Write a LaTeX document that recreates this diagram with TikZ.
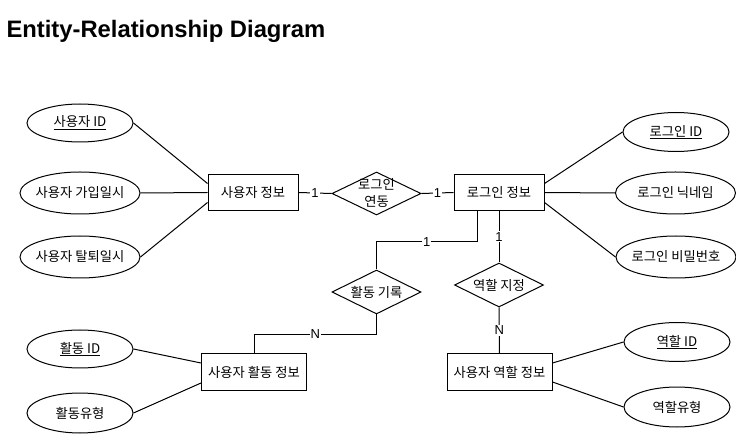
\documentclass[tikz,border=0pt]{standalone}
\usepackage{fontspec}
\setmainfont{Liberation Sans}
\newfontfamily\kr{Noto Sans CJK KR}
\usetikzlibrary{shapes.geometric,positioning}

\tikzset{
  entidad/.style={draw, rectangle, minimum height=36pt, inner sep=1pt,
    font=\kr\fontsize{13.3}{15}\selectfont},
  atributo/.style={draw, ellipse, minimum width=120pt, minimum height=42pt,
    inner xsep=-8pt, inner ysep=0pt, font=\kr\fontsize{13.3}{15}\selectfont},
  relacion/.style={draw, diamond, aspect=2, minimum width=89pt, minimum height=44pt,
    inner sep=0pt, font=\kr\fontsize{13.3}{15}\selectfont},
  card/.style={fill=white, inner sep=1pt, font=\fontsize{13}{15}\selectfont}
}

\begin{document}
\begin{tikzpicture}[x=1pt,y=-1pt,line width=1pt]
  \useasboundingbox (0,0) rectangle (736,435);

  % Titulo
  \node[anchor=base west, inner sep=0pt, font=\bfseries\fontsize{23.8}{28}\selectfont]
    (titulo) at (6,37.5) {Entity-Relationship Diagram};

  % Entidades
  \node[entidad, minimum width=90pt] (usuario) at (253,192.5) {사용자 정보};
  \node[entidad, minimum width=90pt] (login) at (499,192.5) {로그인 정보};
  \node[entidad, minimum width=105pt] (actividad) at (254,372) {사용자 활동 정보};
  \node[entidad, minimum width=105pt] (rolinfo) at (499.5,372) {사용자 역할 정보};

  % Atributos de usuario
  \node[atributo, minimum width=106pt, minimum height=38pt] (uid) at (80,123) {\underline{사용자 ID}};
  \node[atributo] (ualta) at (80,193) {사용자 가입일시};
  \node[atributo] (ubaja) at (80,257) {사용자 탈퇴일시};

  % Atributos de login
  \node[atributo, minimum width=106pt, minimum height=39pt] (lid) at (676,132) {\underline{로그인 ID}};
  \node[atributo] (lnick) at (675.5,193) {로그인 닉네임};
  \node[atributo] (lpass) at (676,257) {로그인 비밀번호};

  % Atributos de actividad y rol
  \node[atributo, minimum width=106pt, minimum height=38pt] (aid) at (80,349) {\underline{활동 ID}};
  \node[atributo, minimum width=106pt, minimum height=40pt] (atipo) at (80,413) {활동유형};
  \node[atributo, minimum width=106pt, minimum height=39pt] (rid) at (677,342) {\underline{역할 ID}};
  \node[atributo, minimum width=106pt, minimum height=40pt] (rtipo) at (677,407) {역할유형};

  % Relaciones
  \node[relacion, minimum height=43pt] (enlace) at (376.5,193.5) {};
  \node[align=center, inner sep=0pt, font=\kr\fontsize{13.3}{17}\selectfont]
    (enlacetxt) at (enlace) {로그인\\연동};
  \node[relacion] (registro) at (376.5,292) {활동 기록};
  \node[relacion] (asigna) at (499,285) {역할 지정};

  % Lineas de atributos
  \draw (uid.east) -- ([yshift=9pt]usuario.west);
  \draw (ualta.east) -- (usuario.west);
  \draw (ubaja.east) -- ([yshift=-10pt]usuario.west);
  \draw ([yshift=9pt]login.east) -- (lid.west);
  \draw (login.east) -- (lnick.west);
  \draw ([yshift=-10pt]login.east) -- (lpass.west);
  \draw (aid.east) -- ([yshift=9pt]actividad.west);
  \draw (atipo.east) -- ([yshift=-11pt]actividad.west);
  \draw ([yshift=9pt]rolinfo.east) -- (rid.west);
  \draw ([yshift=-10pt]rolinfo.east) -- (rtipo.west);

  % Lineas de relaciones
  \draw (usuario.east) -- node[card] {1} (enlace.west);
  \draw (enlace.east) -- node[card] {1} (login.west);
  \draw ([xshift=-22pt]login.south) -- ++(0,31) -| node[card, pos=0.25] {1} (registro.north);
  \draw (registro.south) -- ++(0,20) -| node[card, pos=0.25] {N} (actividad.north);
  \draw (login.south) -- node[card] {1} (asigna.north);
  \draw (asigna.south) -- node[card] {N} (rolinfo.north);
\end{tikzpicture}
\end{document}
